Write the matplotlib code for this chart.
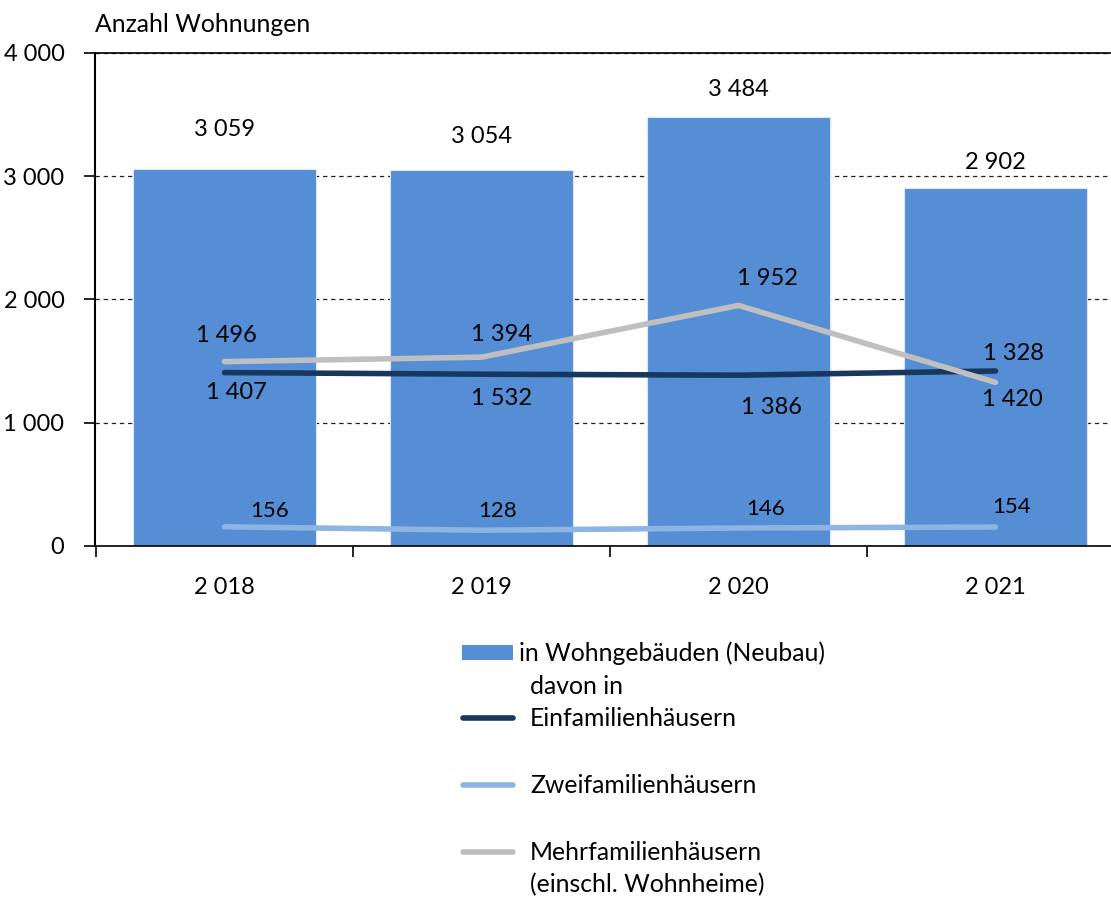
import matplotlib
matplotlib.use("Agg")
import matplotlib.pyplot as plt
from matplotlib.patches import Rectangle
from matplotlib.lines import Line2D
import numpy as np

plt.rcParams['font.family'] = ['Lato', 'DejaVu Sans']

years = ["2 018", "2 019", "2 020", "2 021"]
total = [3059, 3054, 3484, 2902]
ein = [1407, 1394, 1386, 1420]
zwei = [156, 128, 146, 154]
mehr = [1496, 1532, 1952, 1328]

yticks = [0, 1000, 2000, 3000, 4000]
ytick_labels = ["0", "1 000", "2 000", "3 000", "4 000"]

def fmt(v):
    return f"{v:,}".replace(",", " ")

# label offsets in pixels (styling)
bar_off = [(0, 39), (0, 33), (0, 27), (0, 26)]
ein_off = [(12, -20), (20, 40), (33, -32), (17, -29)]
mehr_off = [(2, 26), (20, -41), (29, 27), (18, 29)]
zwei_off = [(45, 16), (16, 19), (27, 19), (16, 20)]

W, H = 1111, 897
fig = plt.figure(figsize=(W/100, H/100), dpi=100)
ax = fig.add_axes([95/W, (H-546)/H, 1-95/W, (546-53)/H])

x = np.arange(len(years))
C_BAR = '#558ED5'
C_EIN = '#17375E'
C_ZWEI = '#8DB4E2'
C_MEHR = '#BFBFBF'

ax.bar(x, total, width=183/257, color=C_BAR, edgecolor='#DCE6F2', linewidth=0.8, zorder=2)
ax.plot(x, ein, color=C_EIN, lw=4, solid_capstyle='round', zorder=3)
ax.plot(x, zwei, color=C_ZWEI, lw=4, solid_capstyle='round', zorder=3)
ax.plot(x, mehr, color=C_MEHR, lw=4, solid_capstyle='round', zorder=4)

FS = 17
FT = 17.8
for series, offs in ((total, bar_off), (ein, ein_off), (mehr, mehr_off)):
    for xi, v, (dx, dy) in zip(x, series, offs):
        ax.annotate(fmt(v), (xi, v), xytext=(dx, dy), textcoords='offset pixels',
                    ha='center', va='center', fontsize=FS, color='black', zorder=6)
for xi, v, (dx, dy) in zip(x, zwei, zwei_off):
    ax.annotate(fmt(v), (xi, v), xytext=(dx, dy), textcoords='offset pixels',
                ha='center', va='center', fontsize=FS - 1, color='black', zorder=6)

ax.set_ylim(0, 4000)
ax.set_xlim(-(224.5-95)/257, 3 + (1111-995.5)/257)
ax.set_yticks(yticks, ytick_labels, fontsize=FS)
ax.yaxis.grid(True, linestyle=(0, (3.5, 3)), color='#202020', linewidth=0.9, zorder=0)
ax.set_axisbelow(True)

ax.set_xticks(x, years, fontsize=FS)
ax.set_xticks(np.arange(len(years)) - 0.5, minor=True)
ax.tick_params(axis='x', which='major', length=0, pad=22)
ax.tick_params(axis='x', which='minor', length=8, width=1.2, color='black', direction='out')
ax.tick_params(axis='y', length=8, width=1.2, direction='out', pad=14)

ax.spines['right'].set_visible(False)
ax.spines['top'].set_color('black')
ax.spines['top'].set_linewidth(1.2)
ax.spines['left'].set_linewidth(1.5)
ax.spines['bottom'].set_linewidth(1.2)

fig.text(95/W, 1-25/H, "Anzahl Wohnungen", fontsize=FT, ha='left', va='center')

# manual legend
def fx(px): return px / W
def fy(py): return 1 - py / H

fig.patches.append(Rectangle((fx(462), fy(660)), fx(513)-fx(462), fy(645)-fy(660),
                             transform=fig.transFigure, facecolor=C_BAR, edgecolor='none'))
fig.text(fx(519), fy(653), "in Wohngebäuden (Neubau)", fontsize=FT, ha='left', va='center')
fig.text(fx(530), fy(686), "davon in", fontsize=FT, ha='left', va='center')
for py, col, lab in ((718, C_EIN, "Einfamilienhäusern"),
                     (785, C_ZWEI, "Zweifamilienhäusern"),
                     (852, C_MEHR, "Mehrfamilienhäusern")):
    fig.lines.append(Line2D([fx(463), fx(513)], [fy(py), fy(py)], transform=fig.transFigure,
                            color=col, lw=4, solid_capstyle='round'))
    fig.text(fx(530), fy(py), lab, fontsize=FT, ha='left', va='center')
fig.text(fx(530), fy(885), "(einschl. Wohnheime)", fontsize=FT, ha='left', va='center')

fig.savefig("out.png", dpi=100)
